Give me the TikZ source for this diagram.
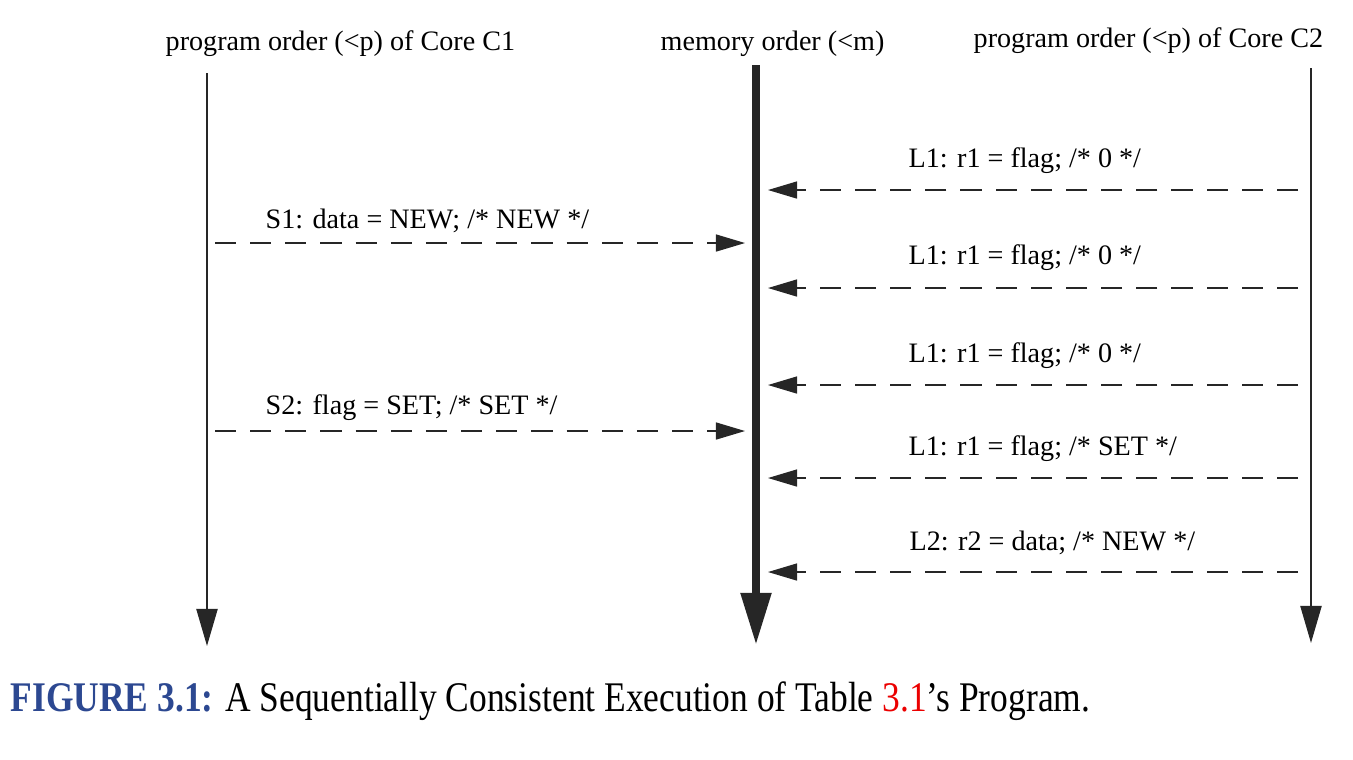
\documentclass[tikz,border=0pt]{standalone}
\usepackage{fontspec}
\setmainfont{Liberation Serif}
\newfontfamily\captionfont[FakeStretch=0.84]{Liberation Serif}
\usetikzlibrary{arrows.meta}

\definecolor{figblue}{RGB}{44,72,145}
\definecolor{figred}{RGB}{235,0,0}

\tikzset{
    lbl/.style={font=\fontsize{8}{10}\selectfont, inner sep=0pt, anchor=base west},
    msg/.style={draw=black!85, line width=0.4pt, dash pattern=on 6pt off 4pt, -{Triangle[length=0.29cm, width=0.17cm]}},
    order/.style={draw=black!85, line width=0.6pt, -{Triangle[length=0.37cm, width=0.21cm]}}
}

\begin{document}
\begin{tikzpicture}[x=0.01cm, y=-0.01cm]
    \useasboundingbox (0,0) rectangle (1353,759);

    \node[lbl] (hdrcone) at (165,50) {program order (<p) of Core C1};
    \node[lbl] (hdrmem) at (660,50) {memory order (<m)};
    \node[lbl] (hdrctwo) at (973,47) {program order (<p) of Core C2};

    \coordinate (conetop) at (207,73);
    \coordinate (conebot) at (207,646);
    \coordinate (memtop) at (756,65);
    \coordinate (membot) at (756,645);
    \coordinate (ctwotop) at (1311,68);
    \coordinate (ctwobot) at (1311,643);

    \draw[order] (conetop) -- (conebot);
    \draw[order] (ctwotop) -- (ctwobot);
    \draw[draw=black!85, line width=2.3pt, -{Triangle[length=0.52cm, width=0.29cm]}] (memtop) -- (membot);

    \coordinate (sone) at (215,243);
    \coordinate (sonem) at (745,243);
    \coordinate (stwo) at (215,431);
    \coordinate (stwom) at (745,431);
    \node[lbl] (sonelbl) at (265,228) {S1: data = NEW; /* NEW */};
    \node[lbl] (stwolbl) at (265,414) {S2: flag = SET; /* SET */};
    \draw[msg] (sone) -- (sonem);
    \draw[msg] (stwo) -- (stwom);

    \coordinate (la) at (1298,190);
    \coordinate (lam) at (768,190);
    \coordinate (lb) at (1298,288);
    \coordinate (lbm) at (768,288);
    \coordinate (lc) at (1298,385);
    \coordinate (lcm) at (768,385);
    \coordinate (ld) at (1298,478);
    \coordinate (ldm) at (768,478);
    \coordinate (le) at (1298,572);
    \coordinate (lem) at (768,572);
    \node[lbl] (lalbl) at (908,167) {L1: r1 = flag; /* 0 */};
    \node[lbl] (lblbl) at (908,264) {L1: r1 = flag; /* 0 */};
    \node[lbl] (lclbl) at (908,362) {L1: r1 = flag; /* 0 */};
    \node[lbl] (ldlbl) at (908,455) {L1: r1 = flag; /* SET */};
    \node[lbl] (lelbl) at (909,550) {L2: r2 = data; /* NEW */};
    \draw[msg] (la) -- (lam);
    \draw[msg] (lb) -- (lbm);
    \draw[msg] (lc) -- (lcm);
    \draw[msg] (ld) -- (ldm);
    \draw[msg] (le) -- (lem);

    \node[anchor=base west, inner sep=0pt, font=\captionfont\fontsize{12}{14}\selectfont] (caption) at (10,711) {\textcolor{figblue}{\textbf{FIGURE 3.1:}} A Sequentially Consistent Execution of Table \textcolor{figred}{3.1}’s Program.};
\end{tikzpicture}
\end{document}
